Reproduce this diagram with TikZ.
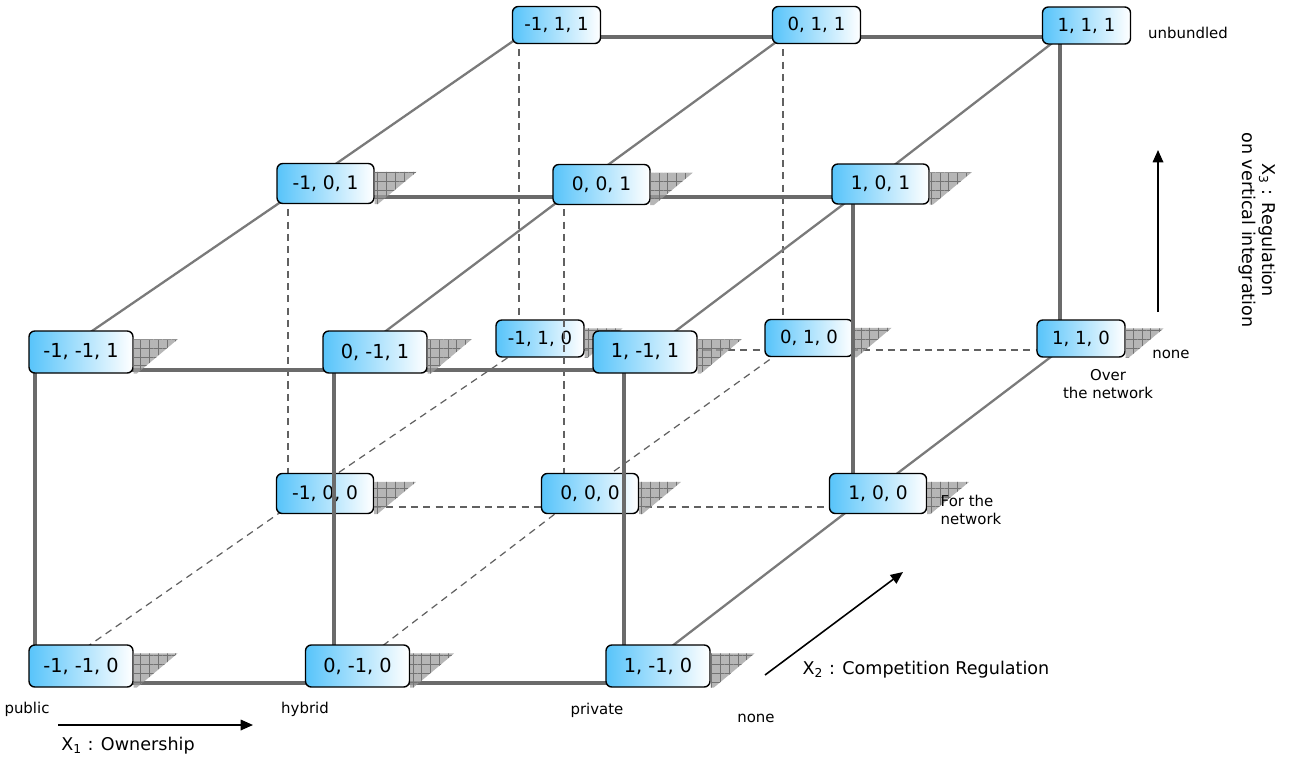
\documentclass[tikz,border=0pt]{standalone}
\usepackage{fontspec}
\setmainfont{DejaVu Sans}
\usetikzlibrary{calc,arrows.meta,patterns.meta}

\definecolor{cellblue}{RGB}{88,196,250}

\tikzset{
    cell/.style = {draw=black, line width=0.8pt, rounded corners=3.3pt, inner sep=0pt,
        left color=cellblue, middle color=cellblue!45, right color=white},
    front/.style = {cell, minimum width=2.08cm, minimum height=0.84cm, font=\fontsize{11}{12}\selectfont},
    mid/.style = {cell, minimum width=1.94cm, minimum height=0.80cm, font=\fontsize{10.6}{12}\selectfont},
    back/.style = {cell, minimum width=1.76cm, minimum height=0.74cm, font=\fontsize{10.3}{12}\selectfont},
    bar/.style = {draw=black!58, line width=2pt},
    ridge/.style = {draw=black!52, line width=1.3pt},
    hidden/.style = {draw=black!62, line width=0.7pt, dash pattern=on 4pt off 3pt},
    drop/.style = {fill=black!38, fill opacity=0.75,
        postaction={pattern={Hatch[angle=0,distance=5pt,line width=0.4pt]}, pattern color=black!55}},
    axis/.style = {-{Triangle[length=7pt,width=6pt]}, line width=0.9pt},
    tag/.style = {font=\fontsize{8.5}{9.8}\selectfont},
    title/.style = {font=\fontsize{10}{11.5}\selectfont}
}

\newcommand{\dropshadow}[2]{%
    \path[drop] ($(#1.north east)+(0,9)$) -- ++(#2,0) -- ($(#1.south east)+(3,0)$) -- (#1.south east) -- cycle;}

\begin{document}
\begin{tikzpicture}[x=0.02cm, y=-0.02cm]
    \useasboundingbox (0,0) rectangle (1295,761);

    % lattice points (x1: m=-1, z=0, p=1 ; then x2 ; then x3)
    \coordinate (Pmpp) at (519,37);
    \coordinate (Pzpp) at (783,37);
    \coordinate (Pppp) at (1060,37);
    \coordinate (Pmpz) at (519,350);
    \coordinate (Pzpz) at (783,350);
    \coordinate (Pppz) at (1060,350);
    \coordinate (Pmzp) at (288,197);
    \coordinate (Pzzp) at (564,197);
    \coordinate (Ppzp) at (853,197);
    \coordinate (Pmzz) at (288,507);
    \coordinate (Pzzz) at (564,507);
    \coordinate (Ppzz) at (853,507);
    \coordinate (Pmmp) at (35,370);
    \coordinate (Pzmp) at (334,370);
    \coordinate (Ppmp) at (624,370);
    \coordinate (Pmmz) at (35,683);
    \coordinate (Pzmz) at (334,683);
    \coordinate (Ppmz) at (624,683);

    % back level
    \draw[ridge] (Pmzp) -- (Pmpp);
    \draw[ridge] (Pzzp) -- (Pzpp);
    \draw[ridge] (Ppzp) -- (Pppp);
    \draw[ridge] (Ppzz) -- (Pppz);
    \draw[hidden] (Pmzz) -- (Pmpz);
    \draw[hidden] (Pzzz) -- (Pzpz);
    \draw[hidden] (Pmpp) -- (Pmpz);
    \draw[hidden] (Pzpp) -- (Pzpz);
    \draw[hidden] (Pmpz) -- (Pzpz) -- (Pppz);
    \draw[bar] (Pmpp) -- (Pzpp) -- (Pppp);
    \draw[bar] (Pppp) -- (Pppz);

    \node[back] (Nmpp) at (556.5,25) {-1, 1, 1};
    \node[back] (Nzpp) at (816.5,25) {0, 1, 1};
    \node[back] (Nppp) at (1086.5,25.5) {1, 1, 1};
    \node[back] (Nmpz) at (540,338.5) {-1, 1, 0};
    \dropshadow{Nmpz}{38}
    \node[back] (Nzpz) at (809,338) {0, 1, 0};
    \dropshadow{Nzpz}{38}
    \node[back] (Nppz) at (1081,338.5) {1, 1, 0};
    \dropshadow{Nppz}{38}

    % middle level
    \draw[ridge] (Pmmp) -- (Pmzp);
    \draw[ridge] (Pzmp) -- (Pzzp);
    \draw[ridge] (Ppmp) -- (Ppzp);
    \draw[ridge] (Ppmz) -- (Ppzz);
    \draw[hidden] (Pmmz) -- (Pmzz);
    \draw[hidden] (Pzmz) -- (Pzzz);
    \draw[hidden] (Pmzp) -- (Pmzz);
    \draw[hidden] (Pzzp) -- (Pzzz);
    \draw[hidden] (Pmzz) -- (Pzzz) -- (Ppzz);
    \draw[bar] (Pmzp) -- (Pzzp) -- (Ppzp);
    \draw[bar] (Ppzp) -- (Ppzz);

    \node[mid] (Nmzp) at (325.5,183.5) {-1, 0, 1};
    \dropshadow{Nmzp}{42}
    \node[mid] (Nzzp) at (601.5,184.5) {0, 0, 1};
    \dropshadow{Nzzp}{42}
    \node[mid] (Npzp) at (880.5,184) {1, 0, 1};
    \dropshadow{Npzp}{42}
    \node[mid] (Nmzz) at (325,493.5) {-1, 0, 0};
    \dropshadow{Nmzz}{42}
    \node[mid] (Nzzz) at (590,493.5) {0, 0, 0};
    \dropshadow{Nzzz}{42}
    \node[mid] (Npzz) at (878,493.5) {1, 0, 0};
    \dropshadow{Npzz}{42}

    % front level
    \draw[bar] (Pmmp) -- (Pzmp) -- (Ppmp);
    \draw[bar] (Pmmz) -- (Pzmz) -- (Ppmz);
    \draw[bar] (Pmmp) -- (Pmmz);
    \draw[bar] (Pzmp) -- (Pzmz);
    \draw[bar] (Ppmp) -- (Ppmz);

    \node[front] (Nmmp) at (81,352) {-1, -1, 1};
    \dropshadow{Nmmp}{44}
    \node[front] (Nzmp) at (375,352) {0, -1, 1};
    \dropshadow{Nzmp}{44}
    \node[front] (Npmp) at (645,352) {1, -1, 1};
    \dropshadow{Npmp}{44}
    \node[front] (Nmmz) at (81,666) {-1, -1, 0};
    \dropshadow{Nmmz}{44}
    \node[front] (Nzmz) at (357.5,666) {0, -1, 0};
    \dropshadow{Nzmz}{44}
    \node[front] (Npmz) at (658,666) {1, -1, 0};
    \dropshadow{Npmz}{44}

    % level names
    \node[tag] (public) at (27,709) {public};
    \node[tag] (hybrid) at (305,709) {hybrid};
    \node[tag] (private) at (597,710) {private};
    \node[tag] (noneA) at (756,718) {none};
    \node[tag, align=left] (fornet) at (971,510) {For the\\network};
    \node[tag] (noneB) at (1171,354) {none};
    \node[tag, align=center] (overnet) at (1108,384) {Over\\the network};
    \node[tag] (unbundled) at (1188,33) {unbundled};

    % axes
    \coordinate (a1) at (58,725);
    \coordinate (b1) at (253,725);
    \draw[axis] (a1) -- (b1);
    \node[title] (own) at (128,746) {X\textsubscript{1} : Ownership};

    \coordinate (a2) at (765,675);
    \coordinate (b2) at (903,572);
    \draw[axis] (a2) -- (b2);
    \node[title] (comp) at (926,670) {X\textsubscript{2} : Competition Regulation};

    \coordinate (a3) at (1158,312);
    \coordinate (b3) at (1158,150);
    \draw[axis] (a3) -- (b3);
    \node[title, rotate=-90, align=center] (vert) at (1257,230) {X\textsubscript{3} : Regulation\\on vertical integration};
\end{tikzpicture}
\end{document}
